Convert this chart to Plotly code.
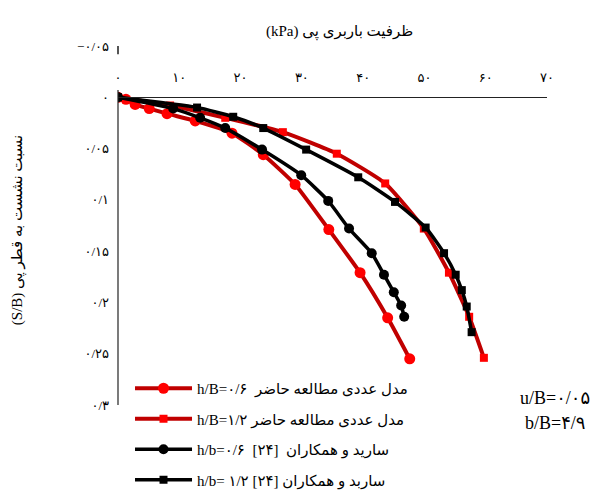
import plotly.graph_objects as go

# Bearing capacity (kPa) vs. settlement ratio S/B
red_circle_q = [0, 1.3, 2.8, 5.1, 8.0, 12.6, 18.6, 23.7, 28.9, 34.4, 39.5, 44.0, 47.6]
red_circle_s = [0, 0.002, 0.007, 0.011, 0.016, 0.023, 0.035, 0.056, 0.085, 0.129, 0.171, 0.215, 0.255]

red_square_q = [0, 8.5, 17.5, 26.9, 35.7, 43.6, 49.9, 54.0, 57.3, 59.7]
red_square_s = [0, 0.008, 0.020, 0.034, 0.055, 0.084, 0.128, 0.171, 0.214, 0.254]

black_circle_q = [0, 9.0, 13.4, 17.5, 23.5, 29.9, 34.3, 37.7, 41.4, 43.4, 45.0, 46.2, 46.7]
black_circle_s = [0, 0.011, 0.020, 0.030, 0.051, 0.076, 0.101, 0.128, 0.152, 0.173, 0.190, 0.203, 0.214]

black_square_q = [0, 12.9, 18.8, 23.7, 30.7, 39.2, 45.2, 50.2, 53.2, 55.1, 56.1, 56.9, 57.7]
black_square_s = [0, 0.010, 0.019, 0.030, 0.051, 0.078, 0.102, 0.127, 0.152, 0.173, 0.188, 0.204, 0.229]

series_names = [
    "h/B=۰/۶  مدل عددی مطالعه حاضر",
    "h/B=۱/۲ مدل عددی مطالعه حاضر",
    "h/b=۰/۶  [۲۴]  سارید و همکاران",
    "h/b= ۱/۲ [۲۴] ساربد و همکاران",
]

x_tickvals = [0, 10, 20, 30, 40, 50, 60, 70]
x_ticktext = ["۰", "۱۰", "۲۰", "۳۰", "۴۰", "۵۰", "۶۰", "۷۰"]
y_tickvals = [-0.05, 0, 0.05, 0.1, 0.15, 0.2, 0.25, 0.3]
y_ticktext = ["−۰/۰۵", "۰", "۰/۰۵", "۰/۱", "۰/۱۵", "۰/۲", "۰/۲۵", "۰/۳"]

x_title = "(kPa) ظرفیت باربری پی"
y_title = "(S/B) نسبت نشست به قطر پی"
note_u = "u/B=۰/۰۵"
note_b = "b/B=۴/۹"

x_range = [0, 70]
y_top, y_bottom = -0.05, 0.3

FONT = "Liberation Serif, Times New Roman, DejaVu Sans, serif"


def to_paper(v):
    """Convert an S/B value to a paper fraction on the reversed y axis."""
    return (y_bottom - v) / (y_bottom - y_top)


fig = go.Figure()

styles = [
    dict(q=red_circle_q, s=red_circle_s, line="#C00000", marker="#FF0000", symbol="circle", size=11, width=4),
    dict(q=red_square_q, s=red_square_s, line="#C00000", marker="#FF0000", symbol="square", size=8, width=4),
    dict(q=black_circle_q, s=black_circle_s, line="#000000", marker="#000000", symbol="circle", size=10, width=3.5),
    dict(q=black_square_q, s=black_square_s, line="#000000", marker="#000000", symbol="square", size=8, width=3.5),
]

for i, (st, name) in enumerate(zip(styles, series_names)):
    fig.add_trace(go.Scatter(
        x=st["q"], y=st["s"], name=name, mode="lines+markers",
        legendgroup=f"g{i}",
        line=dict(color=st["line"], width=st["width"], shape="spline", smoothing=0.5),
        marker=dict(color=st["marker"], symbol=st["symbol"], size=st["size"]),
    ))

# y-axis line, broken where the x tick labels sit
shapes = [
    dict(type="line", xref="paper", yref="paper", x0=0, x1=0,
         y0=to_paper(-0.05), y1=to_paper(-0.042), line=dict(color="#555555", width=2)),
    dict(type="line", xref="paper", yref="paper", x0=0, x1=0,
         y0=to_paper(-0.007), y1=to_paper(0.3), line=dict(color="#222222", width=1.2)),
]

fig.update_layout(
    width=591, height=493,
    margin=dict(l=118, r=44, t=46, b=88, autoexpand=False),
    paper_bgcolor="white", plot_bgcolor="white",
    font=dict(family=FONT, size=13, color="black"),
    showlegend=True,
    legend=dict(
        x=0.028, y=-(372 - 405) / 359, xanchor="left", yanchor="top",
        bgcolor="rgba(255,255,255,0)", font=dict(size=15, family=FONT),
        tracegroupgap=8, itemwidth=57, traceorder="grouped",
    ),
    xaxis=dict(
        range=x_range, anchor="free", position=to_paper(0), side="top",
        showline=True, linecolor="#222222", linewidth=1.2,
        showgrid=False, zeroline=False, ticks="",
        tickvals=x_tickvals, ticktext=x_ticktext, ticklabelstandoff=10,
        tickfont=dict(size=13),
    ),
    yaxis=dict(
        range=[y_bottom, y_top], showline=False, showgrid=False, zeroline=False,
        ticks="", tickvals=y_tickvals, ticktext=y_ticktext, ticklabelstandoff=8,
        tickfont=dict(size=13),
    ),
    shapes=shapes,
    annotations=[
        dict(text=x_title, xref="paper", yref="paper", x=0.517, y=1 + 14 / 359,
             showarrow=False, font=dict(size=15), xanchor="center", yanchor="middle"),
        dict(text=y_title, xref="paper", yref="paper", x=-0.233, y=0.487,
             textangle=-90, showarrow=False, font=dict(size=15), xanchor="center", yanchor="middle"),
        dict(text=note_u, xref="paper", yref="paper", x=1.019, y=0.0195,
             showarrow=False, font=dict(size=18), xanchor="center", yanchor="middle"),
        dict(text=note_b, xref="paper", yref="paper", x=1.019, y=-0.05,
             showarrow=False, font=dict(size=18), xanchor="center", yanchor="middle"),
    ],
)

fig.write_html("out.html")
